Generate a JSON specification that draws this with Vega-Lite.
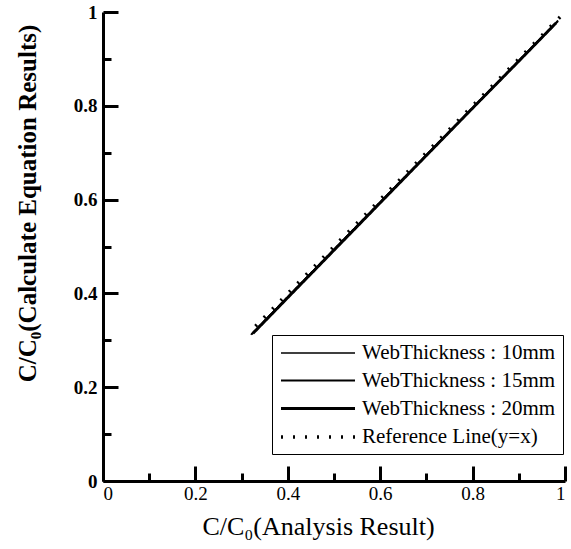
{
  "$schema": "https://vega.github.io/schema/vega-lite/v6.json",
  "autosize": "none",
  "width": 462,
  "height": 469,
  "padding": {"left": 103, "top": 12, "right": 6, "bottom": 68},
  "background": "white",
  "config": {
    "view": {"stroke": null},
    "font": "Liberation Serif"
  },
  "data": {
    "values": [
      {"series": "WebThickness : 10mm", "x": 0.32, "y": 0.312},
      {"series": "WebThickness : 10mm", "x": 0.4, "y": 0.393},
      {"series": "WebThickness : 10mm", "x": 0.5, "y": 0.494},
      {"series": "WebThickness : 10mm", "x": 0.6, "y": 0.595},
      {"series": "WebThickness : 10mm", "x": 0.7, "y": 0.695},
      {"series": "WebThickness : 10mm", "x": 0.8, "y": 0.796},
      {"series": "WebThickness : 10mm", "x": 0.9, "y": 0.896},
      {"series": "WebThickness : 10mm", "x": 0.985, "y": 0.982},
      {"series": "WebThickness : 15mm", "x": 0.322, "y": 0.313},
      {"series": "WebThickness : 15mm", "x": 0.4, "y": 0.392},
      {"series": "WebThickness : 15mm", "x": 0.5, "y": 0.493},
      {"series": "WebThickness : 15mm", "x": 0.6, "y": 0.594},
      {"series": "WebThickness : 15mm", "x": 0.7, "y": 0.695},
      {"series": "WebThickness : 15mm", "x": 0.8, "y": 0.795},
      {"series": "WebThickness : 15mm", "x": 0.9, "y": 0.896},
      {"series": "WebThickness : 15mm", "x": 0.985, "y": 0.981},
      {"series": "WebThickness : 20mm", "x": 0.325, "y": 0.315},
      {"series": "WebThickness : 20mm", "x": 0.4, "y": 0.391},
      {"series": "WebThickness : 20mm", "x": 0.5, "y": 0.492},
      {"series": "WebThickness : 20mm", "x": 0.6, "y": 0.593},
      {"series": "WebThickness : 20mm", "x": 0.7, "y": 0.694},
      {"series": "WebThickness : 20mm", "x": 0.8, "y": 0.795},
      {"series": "WebThickness : 20mm", "x": 0.9, "y": 0.895},
      {"series": "WebThickness : 20mm", "x": 0.98, "y": 0.976},
      {"series": "Reference Line(y=x)", "x": 0.33, "y": 0.33},
      {"series": "Reference Line(y=x)", "x": 0.99, "y": 0.99}
    ]
  },
  "mark": {"type": "line", "strokeCap": "butt"},
  "encoding": {
    "x": {
      "field": "x", "type": "quantitative",
      "scale": {"domain": [0, 1], "nice": false},
      "axis": {
        "title": "C/C₀(Analysis Result)",
        "titleFont": "Liberation Serif", "titleFontSize": 26, "titleFontWeight": "normal", "titleColor": "black",
        "titleX": 215, "titleY": 45, "titleBaseline": "middle", "titleAlign": "center", "titleAnchor": null,
        "values": [0, 0.1, 0.2, 0.3, 0.4, 0.5, 0.6, 0.7, 0.8, 0.9, 1],
        "format": ".1~f",
        "labelExpr": "round(datum.value*10)%2==0 ? datum.label : ''",
        "labelFont": "Liberation Serif", "labelFontSize": 19, "labelColor": "black", "labelPadding": 18,
        "domainColor": "black", "domainWidth": 3,
        "tickColor": "black", "tickWidth": 3,
        "tickSize": {"condition": {"test": "round(datum.value*10)%2==0", "value": -15}, "value": -8},
        "grid": false
      }
    },
    "y": {
      "field": "y", "type": "quantitative",
      "scale": {"domain": [0, 1], "nice": false},
      "axis": {
        "title": "C/C₀(Calculate Equation Results)",
        "titleFont": "Liberation Serif", "titleFontSize": 25, "titleFontWeight": "bold", "titleColor": "black",
        "titleX": -76, "titleY": 191, "titleBaseline": "middle", "titleAlign": "center", "titleAngle": -90,
        "values": [0, 0.1, 0.2, 0.3, 0.4, 0.5, 0.6, 0.7, 0.8, 0.9, 1],
        "format": ".1~f",
        "labelExpr": "round(datum.value*10)%2==0 ? datum.label : ''",
        "labelFont": "Liberation Serif", "labelFontSize": 19, "labelFontWeight": "bold", "labelColor": "black", "labelPadding": 21,
        "domainColor": "black", "domainWidth": 3,
        "tickColor": "black", "tickWidth": 3,
        "tickSize": {"condition": {"test": "round(datum.value*10)%2==0", "value": -15}, "value": -8},
        "grid": false
      }
    },
    "color": {
      "field": "series", "type": "nominal",
      "scale": {
        "domain": ["WebThickness : 10mm", "WebThickness : 15mm", "WebThickness : 20mm", "Reference Line(y=x)"],
        "range": ["black", "black", "black", "black"]
      },
      "legend": {
        "title": null,
        "orient": "none",
        "legendX": 169,
        "legendY": 323,
        "direction": "vertical",
        "strokeColor": "black",
        "fillColor": "white",
        "padding": 7,
        "symbolType": "M-1,0H6.4",
        "symbolSize": 400,
        "symbolOffset": 0,
        "labelFont": "Liberation Serif",
        "labelFontSize": 21,
        "labelColor": "black",
        "labelOffset": 59,
        "rowPadding": 6,
        "labelLimit": 400
      }
    },
    "strokeWidth": {
      "field": "series", "type": "nominal",
      "scale": {
        "domain": ["WebThickness : 10mm", "WebThickness : 15mm", "WebThickness : 20mm", "Reference Line(y=x)"],
        "range": [1.5, 3.5, 5, 1.5]
      }
    },
    "strokeDash": {
      "field": "series", "type": "nominal",
      "scale": {
        "domain": ["WebThickness : 10mm", "WebThickness : 15mm", "WebThickness : 20mm", "Reference Line(y=x)"],
        "range": [[1, 0], [1, 0], [1, 0], [2, 10]]
      }
    }
  }
}
